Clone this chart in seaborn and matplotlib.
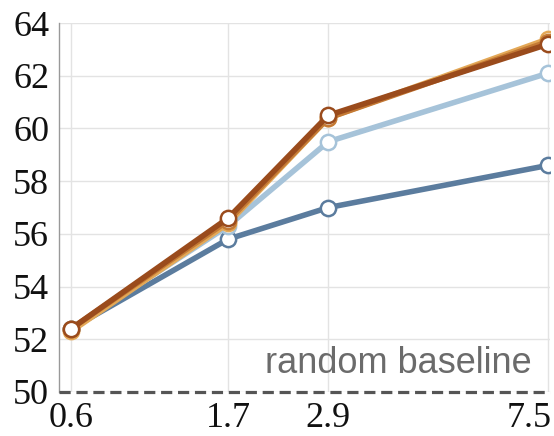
import numpy as np
import pandas as pd
import seaborn as sns
import matplotlib
matplotlib.use("Agg")
import matplotlib.pyplot as plt
from matplotlib.transforms import ScaledTranslation

# model sizes on the x axis
sizes = [0.6, 1.7, 2.9, 7.5]

# accuracy of each run
dark_blue = [52.4, 55.8, 57.0, 58.6]
light_blue = [52.4, 56.3, 59.5, 62.1]
light_orange = [52.3, 56.4, 60.4, 63.4]
mid_orange = [52.4, 56.5, 60.4, 63.3]
dark_brown = [52.4, 56.6, 60.5, 63.2]

y_ticks = [50, 52, 54, 56, 58, 60, 62, 64]
baseline = 50

series = {
    "dark_blue": (dark_blue, "#5b7c9e"),
    "light_blue": (light_blue, "#a6c3d9"),
    "light_orange": (light_orange, "#e3a857"),
    "mid_orange": (mid_orange, "#c47a35"),
    "dark_brown": (dark_brown, "#9a4b1c"),
}

sns.set_style("white")
fig = plt.figure(figsize=(5.54, 4.36), dpi=100)
ax = fig.add_axes([0.1065, 0.101, 0.886, 0.846])

# the x axis is squeezed, roughly like size**0.28
p = 0.28
ax.set_xscale("function", functions=(lambda x: np.power(np.clip(x, 1e-9, None), p),
                                     lambda x: np.power(np.clip(x, 1e-9, None), 1 / p)))

for name, (vals, col) in series.items():
    df = pd.DataFrame({"size": sizes, "acc": vals})
    sns.lineplot(data=df, x="size", y="acc", ax=ax, color=col, linewidth=4.0,
                 marker="o", markersize=11, markerfacecolor="white",
                 markeredgecolor=col, markeredgewidth=1.8, zorder=3)

# random baseline
ax.axhline(baseline, color="#555555", linestyle=(0, (3.5, 1.8)), linewidth=2.3,
           zorder=4, clip_on=False)
ax.text(7.05, 50.4, "random baseline", ha="right", va="bottom",
        fontsize=26, color="#6b6b6b", family="Liberation Sans")

ax.set_xlim(0.546, 7.55)
ax.set_ylim(50, 64)
ax.set_xticks(sizes)
ax.set_xticklabels([str(s) for s in sizes])
ax.set_yticks(y_ticks)
ax.minorticks_off()
ax.set_xlabel("")
ax.set_ylabel("")

ax.grid(True, color="#e3e3e3", linewidth=1.0)
ax.set_axisbelow(True)
for s in ["top", "right", "bottom"]:
    ax.spines[s].set_visible(False)
ax.spines["left"].set_color("#999999")
ax.spines["left"].set_linewidth(1.0)

ax.tick_params(axis="y", length=6, color="#999999", pad=1, labelsize=26)
ax.tick_params(axis="x", length=4, color="#999999", pad=3, labelsize=26)
for lab in ax.get_xticklabels() + ax.get_yticklabels():
    lab.set_family("Liberation Serif")
    lab.set_color("#111111")

# last x label sits left of its tick so it stays inside the figure
last = ax.get_xticklabels()[-1]
last.set_horizontalalignment("right")
last.set_transform(last.get_transform() + ScaledTranslation(4 / 100, 0, fig.dpi_scale_trans))

fig.savefig("out.png", dpi=100)
